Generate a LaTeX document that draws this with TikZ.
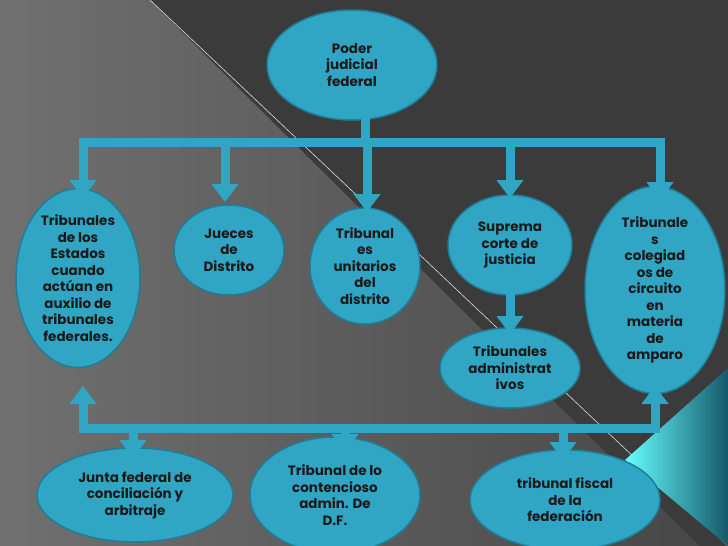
\documentclass[tikz,border=0pt]{standalone}
\usepackage{fontspec}
\setmainfont{Poppins}
\usetikzlibrary{arrows.meta,shapes.geometric}
\definecolor{nodefill}{HTML}{31A5C4}
\definecolor{nodeedge}{HTML}{1F7E98}
\definecolor{bgdark}{HTML}{3B3B3B}
\definecolor{bglight}{HTML}{707070}
\definecolor{txt}{HTML}{1A1A1A}
\tikzset{
  el/.style={ellipse,fill=nodefill,draw=nodeedge,line width=1.5pt,inner sep=0pt,
    align=center,font=\bfseries\fontsize{13.5}{16.5}\selectfont,text=txt},
  bar/.style={draw=nodefill,line width=9pt},
  arr/.style={draw=nodefill,line width=9pt,-{Triangle[width=26pt,length=18pt]}},
}
\begin{document}
\begin{tikzpicture}[x=1pt,y=-1pt]
\useasboundingbox (0,0) rectangle (728,546);
\shade[left color=bglight,right color=bgdark!80!bglight] (0,0) rectangle (728,546);
\fill[bgdark] (150,0) -- (728,0) -- (728,546) -- (700,546) -- cycle;
\draw[white!70!gray,line width=0.6pt] (150,0) -- (728,546);
\shade[left color=cyan!60!white,right color=nodeedge!70!black] (728,368) -- (625,460) -- (728,546) -- cycle;
% nodes
\node[el,minimum width=170pt,minimum height=110pt] (pod) at (352,65) {Poder\\judicial\\federal};
\node[el,minimum width=124pt,minimum height=170pt] (est) at (78,278) {Tribunales\\de los\\Estados\\cuando\\actúan en\\auxilio de\\tribunales\\federales.};
\node[el,minimum width=110pt,minimum height=90pt] (jue) at (229,250) {Jueces\\de\\Distrito};
\node[el,minimum width=110pt,minimum height=116pt] (uni) at (365,266) {Tribunal\\es\\unitarios\\del\\distrito};
\node[el,minimum width=124pt,minimum height=100pt] (sup) at (510,245) {Suprema\\corte de\\justicia};
\node[el,minimum width=140pt,minimum height=184pt] (col) at (655,290) {Tribunale\\s\\colegiad\\os de\\circuito\\en\\materia\\de\\amparo};
\node[el,minimum width=140pt,minimum height=80pt] (adm) at (510,368) {Tribunales\\administrat\\ivos};
\node[el,minimum width=196pt,minimum height=94pt] (jun) at (135,495) {Junta federal de\\conciliación y\\arbitraje};
\node[el,minimum width=170pt,minimum height=116pt] (con) at (335,495) {Tribunal de lo\\contencioso\\admin. De\\D.F.};
\node[el,minimum width=190pt,minimum height=100pt] (fis) at (565,500) {tribunal fiscal\\de la\\federación};
% top connectors
\coordinate (t0) at (365,112);
\coordinate (tl) at (83,142);
\coordinate (tr) at (660,142);
\draw[bar] (t0) -- (365,142);
\draw[bar,line cap=rect] (tl) -- (tr);
\draw[arr] (tl) -- (83,198);
\draw[arr] (tr) -- (660,200);
\draw[arr] (225,146) -- (225,202);
\draw[arr] (367,146) -- (367,212);
\draw[arr] (510,146) -- (510,198);
\draw[arr] (510,292) -- (510,334);
% bottom connectors
\coordinate (bl) at (83,428);
\coordinate (br) at (655,428);
\draw[bar,line cap=rect] (bl) -- (br);
\draw[arr] (bl) -- (83,386);
\draw[arr] (br) -- (655,386);
\draw[arr] (133,428) -- (133,458);
\draw[arr] (345,428) -- (345,452);
\draw[arr] (563,428) -- (563,460);
\end{tikzpicture}
\end{document}
